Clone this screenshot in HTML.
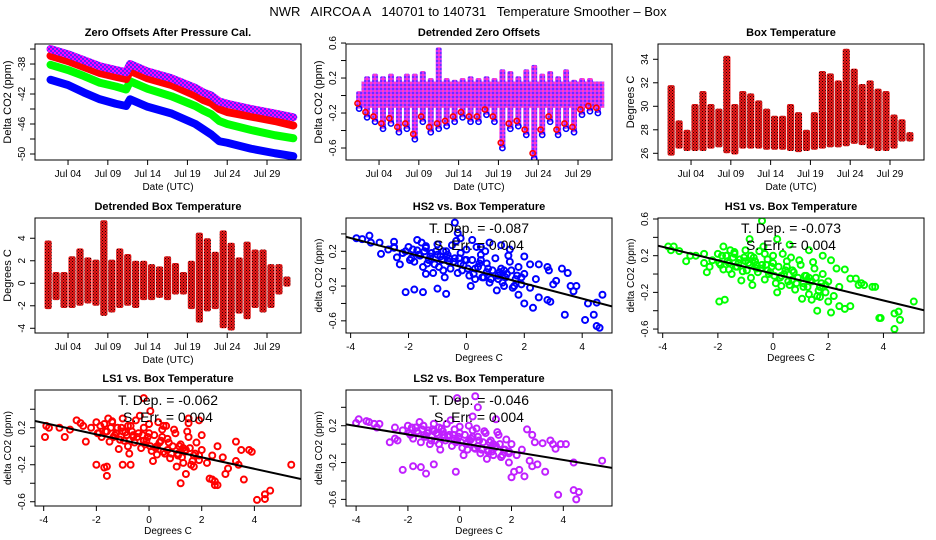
<!DOCTYPE html>
<html><head><meta charset="utf-8"><style>
html,body{margin:0;padding:0;background:#fff;}
svg{display:block;font-family:"Liberation Sans",sans-serif;}
</style></head><body>
<svg id="chart" width="936" height="540" viewBox="0 0 936 540" xmlns="http://www.w3.org/2000/svg">
<defs>
<pattern id="pPurple" width="4" height="4" patternUnits="userSpaceOnUse"><rect width="4" height="4" fill="#ff00ff"/><rect x="0" y="0" width="2" height="2" fill="#5a20ff"/><rect x="2" y="2" width="2" height="2" fill="#5a20ff"/></pattern>
<pattern id="pMix" width="4" height="4" patternUnits="userSpaceOnUse"><rect width="4" height="4" fill="#d030ff"/><rect x="0" y="0" width="2" height="2" fill="#6a30ff"/><rect x="2" y="2" width="2" height="2" fill="#ff40c0"/></pattern>
<pattern id="pRed" width="3" height="3" patternUnits="userSpaceOnUse"><rect width="3" height="3" fill="#ee1a1a"/><rect x="0" y="0" width="1" height="1" fill="#200000"/><rect x="1.5" y="1.5" width="1" height="1" fill="#300000"/></pattern>
</defs>
<text x="468" y="16" text-anchor="middle" font-size="13" xml:space="preserve">NWR   AIRCOA A   140701 to 140731   Temperature Smoother – Box</text>
</svg>
<script>
const zoDays = [0.8,3,5,7,9,10.3,10.8,13,16,19,20,21,22,23,26,29,31.3];
const zoLS2 = [-36.0,-36.7,-37.5,-38.3,-38.8,-39.1,-38.0,-39.0,-39.9,-41.2,-41.8,-42.2,-43.0,-43.3,-44.0,-44.6,-45.1];
const zoLS1 = [-36.9,-37.6,-38.4,-39.2,-39.7,-40.0,-38.9,-39.9,-40.8,-42.2,-42.8,-43.2,-44.0,-44.4,-45.0,-45.6,-46.2];
const zoHS1 = [-38.1,-38.8,-39.6,-40.5,-41.0,-41.4,-40.3,-41.3,-42.3,-43.6,-44.2,-44.7,-45.6,-46.0,-46.8,-47.5,-47.9];
const zoHS2 = [-40.1,-40.8,-41.8,-42.7,-43.3,-43.6,-42.7,-43.7,-44.6,-46.0,-46.7,-47.4,-48.3,-48.5,-49.3,-49.9,-50.3];
const detHi = [0.05,0.22,0.25,0.22,0.25,0.22,0.25,0.25,0.28,0.2,0.55,0.2,0.18,0.2,0.22,0.2,0.22,0.2,0.3,0.28,0.22,0.3,0.35,0.25,0.28,0.22,0.3,0.18,0.2,0.2,0.12];
const detLo = [-0.15,-0.25,-0.3,-0.38,-0.32,-0.42,-0.38,-0.5,-0.3,-0.42,-0.38,-0.35,-0.3,-0.25,-0.3,-0.3,-0.22,-0.3,-0.6,-0.38,-0.35,-0.45,-0.72,-0.45,-0.3,-0.45,-0.38,-0.42,-0.22,-0.18,-0.2];
const detCore = [-0.14,0.16];
const btHi = [31.8,28.8,28.0,30.2,31.3,30.2,29.8,34.3,30.2,31.3,31.1,30.5,29.8,29.2,29.2,30.2,29.5,28.0,29.5,33.0,32.8,32.2,34.9,33.2,31.9,32.2,31.5,31.3,29.3,28.9,27.8];
const btLo = [25.8,26.4,26.2,26.2,26.2,26.4,26.5,26.0,25.9,26.4,26.4,26.4,26.3,26.3,26.3,26.2,26.1,26.2,26.3,26.4,26.5,26.5,26.6,26.8,26.7,26.4,26.2,26.2,26.4,27.0,27.0];
const dbHi = [3.8,1.0,1.0,2.4,3.1,2.3,2.1,5.6,2.1,3.1,2.6,2.0,2.0,1.7,1.5,2.4,1.8,1.0,2.0,4.5,4.0,2.8,4.7,3.6,2.3,3.7,3.0,3.0,1.7,1.7,0.6];
const dbLo = [-2.3,-1.5,-2.2,-2.2,-2.0,-1.8,-2.0,-2.9,-2.6,-2.2,-2.0,-2.2,-1.5,-1.5,-1.3,-1.5,-1.0,-1.0,-2.3,-3.5,-2.5,-2.3,-4.0,-4.2,-2.7,-3.2,-2.2,-2.6,-2.2,-1.0,-0.3];
const hs2X = [-3.8,-3.6,-3.35,-3.3,-3.0,-2.95,-2.7,-2.5,-2.5,-2.4,-2.1,-2.1,-1.8,-1.7,-1.5,-1.4,-1.0,-0.7,-0.4,-0.3,-0.2,0.2,0.5,0.8,1.2,1.5,2.0,2.2,2.5,2.8,2.85,3.1,3.0,3.3,3.5,3.6,3.7,3.8,3.4,4.1,4.2,4.4,4.5,4.5,4.6,4.7,2.0,2.3,2.5,1.8,2.8,2.9,
 -2.2,-2.0,-1.9,-1.8,-1.7,-1.6,-1.5,-1.4,-1.3,-1.2,-1.1,-1.0,-0.9,-0.8,-0.7,-0.6,-0.5,-0.4,-0.3,-0.2,-0.1,0.0,0.1,0.2,0.3,0.4,0.5,0.6,0.7,0.8,0.9,1.0,1.1,1.2,1.3,1.4,1.5,1.6,1.7,1.8,1.9,2.0,2.2,2.4,-1.55,-0.75,0.35,1.05,-2.3,0.65,-0.35,1.45,-1.15,0.15];
const hs2Y = [0.35,0.34,0.38,0.3,0.3,0.17,0.22,0.31,0.25,0.13,-0.27,0.2,-0.24,0.33,-0.27,-0.06,-0.23,-0.29,0.53,0.41,0.35,0.33,0.25,0.3,0.27,0.22,0.14,0.05,0.05,0.02,-0.02,-0.14,-0.18,0.0,-0.05,-0.2,-0.26,-0.2,-0.53,-0.59,-0.4,-0.53,-0.39,-0.66,-0.68,-0.3,-0.4,-0.45,-0.33,-0.3,-0.36,-0.38,
 0.18,0.25,0.12,0.08,0.21,0.15,0.02,0.24,0.10,0.18,0.05,0.28,0.14,-0.02,0.20,0.08,0.27,0.12,-0.05,0.18,0.04,0.22,-0.08,0.10,-0.12,0.02,0.16,-0.10,0.06,-0.16,-0.02,0.12,-0.12,0.0,-0.20,-0.06,0.08,-0.22,-0.12,0.02,-0.18,-0.06,-0.22,-0.12,0.3,-0.1,0.25,-0.25,0.05,0.2,0.32,0.15,-0.05,-0.2];
const hs1X = [-3.8,-3.7,-3.6,-3.4,-3.15,-3.0,-2.8,-2.5,-2.3,-1.95,-1.75,-1.6,-1.8,-0.85,-0.4,-0.3,0.15,0.6,1.3,1.8,2.1,2.3,2.6,2.8,3.0,3.1,3.2,3.3,3.6,3.7,3.85,3.9,4.4,4.4,4.55,4.6,5.1,2.1,2.4,2.0,1.7,1.6,1.4,2.8,2.6,
 -2.2,-2.0,-1.9,-1.8,-1.7,-1.6,-1.5,-1.4,-1.3,-1.2,-1.1,-1.0,-0.9,-0.8,-0.7,-0.6,-0.5,-0.4,-0.3,-0.2,-0.1,0.0,0.1,0.2,0.3,0.4,0.5,0.6,0.7,0.8,0.9,1.0,1.1,1.2,1.3,1.4,1.5,1.6,1.7,1.8,1.9,2.0,2.2,2.4,-1.55,-0.75,0.35,1.05,-2.4,0.65,-0.35,1.45,-1.15,0.15,0.95];
const hs1Y = [0.3,0.26,0.3,0.25,0.14,0.2,0.2,0.12,0.08,-0.3,-0.28,0.05,0.3,0.38,0.58,0.22,0.38,0.32,0.26,0.2,0.15,0.06,0.05,-0.05,-0.05,-0.12,-0.1,-0.12,-0.14,-0.14,-0.48,-0.48,-0.43,-0.6,-0.41,-0.5,-0.3,-0.42,-0.35,-0.3,-0.25,-0.4,-0.28,-0.35,-0.38,
 0.15,0.22,0.1,0.05,0.2,0.12,0.0,0.22,0.08,0.16,0.03,0.26,0.12,-0.04,0.18,0.06,0.25,0.1,-0.06,0.16,0.02,0.2,-0.1,0.08,-0.13,0.0,0.14,-0.12,0.04,-0.17,-0.04,0.1,-0.14,-0.02,-0.22,-0.08,0.06,-0.24,-0.14,0.0,-0.2,-0.08,-0.24,-0.14,0.26,-0.12,0.22,-0.27,0.02,0.18,0.3,0.13,-0.07,-0.2,0.15];
const ls1X = [-3.9,-3.8,-3.95,-3.4,-3.2,-3.0,-2.75,-2.6,-2.0,-1.7,-1.6,-1.6,-1.0,-0.7,-0.2,0.05,0.55,1.2,1.5,1.5,1.9,2.0,2.5,2.6,2.6,2.8,2.9,3.3,3.4,3.5,3.6,3.8,3.9,3.3,3.0,2.3,2.4,2.5,4.1,4.4,4.4,4.6,5.4,1.7,1.4,
 -2.2,-2.0,-1.9,-1.8,-1.7,-1.6,-1.5,-1.4,-1.3,-1.2,-1.1,-1.0,-0.9,-0.8,-0.7,-0.6,-0.5,-0.4,-0.3,-0.2,-0.1,0.0,0.1,0.2,0.3,0.4,0.5,0.6,0.7,0.8,0.9,1.0,1.1,1.2,1.3,1.4,1.5,1.6,1.7,1.8,1.9,2.0,2.2,2.4,-1.55,-0.75,0.35,1.05,-2.4,0.65,-0.35,1.45,-1.15,0.15,0.95];
const ls1Y = [0.22,0.2,0.1,0.2,0.1,0.18,0.28,0.25,-0.2,-0.23,-0.22,-0.32,-0.2,-0.2,0.52,0.38,0.22,-0.4,0.3,0.25,0.28,0.12,-0.38,-0.42,0.0,-0.12,-0.3,-0.16,-0.2,-0.04,-0.36,-0.04,-0.06,0.05,-0.24,-0.35,-0.36,-0.42,-0.58,-0.57,-0.52,-0.48,-0.2,-0.22,-0.3,
 0.2,0.26,0.14,0.1,0.24,0.16,0.05,0.27,0.12,0.2,0.07,0.3,0.15,0.0,0.22,0.1,0.28,0.14,-0.02,0.2,0.06,0.24,-0.05,0.12,-0.09,0.04,0.18,-0.08,0.08,-0.13,0.0,0.14,-0.1,0.02,-0.18,-0.04,0.1,-0.2,-0.1,0.04,-0.15,-0.04,-0.18,-0.1,0.3,-0.08,0.26,-0.22,0.05,0.22,0.33,0.16,-0.03,-0.16,0.18];
const ls2X = [-4.0,-3.9,-3.6,-3.5,-3.3,-3.1,-3.2,-2.7,-2.5,-2.2,-1.8,-1.5,-1.3,-1.0,-0.15,-0.1,0.6,0.7,0.5,1.4,2.6,2.8,2.9,3.2,3.5,3.6,3.7,3.9,4.1,4.4,4.4,4.6,5.5,2.8,3.3,2.1,2.5,3.8,4.5,1.9,2.3,1.6,2.7,3.0,2.0,
 -2.2,-2.0,-1.9,-1.8,-1.7,-1.6,-1.5,-1.4,-1.3,-1.2,-1.1,-1.0,-0.9,-0.8,-0.7,-0.6,-0.5,-0.4,-0.3,-0.2,-0.1,0.0,0.1,0.2,0.3,0.4,0.5,0.6,0.7,0.8,0.9,1.0,1.1,1.2,1.3,1.4,1.5,1.6,1.7,1.8,1.9,2.0,2.2,2.4,-1.55,-0.75,0.35,1.05,-2.4,0.65,-0.35,1.45,-1.15,0.15,0.95];
const ls2Y = [0.23,0.27,0.25,0.24,0.22,0.22,0.18,0.02,0.06,-0.28,-0.24,-0.25,-0.32,-0.22,-0.3,0.5,0.52,0.4,0.3,0.27,0.16,0.1,0.02,0.01,0.04,0.0,-0.05,0.0,0.0,-0.5,-0.2,-0.52,-0.18,-0.24,-0.3,-0.3,-0.35,-0.55,-0.6,-0.2,-0.28,-0.14,-0.18,-0.22,-0.36,
 0.15,0.2,0.1,0.06,0.18,0.12,0.02,0.2,0.08,0.15,0.04,0.22,0.12,0.0,0.17,0.07,0.22,0.1,-0.02,0.16,0.04,0.19,-0.04,0.1,-0.06,0.04,0.15,-0.05,0.08,-0.1,0.02,0.12,-0.08,0.04,-0.12,-0.02,0.1,-0.14,-0.06,0.05,-0.1,0.0,-0.12,-0.06,0.24,-0.06,0.2,-0.16,0.04,0.17,0.26,0.13,0.0,-0.12,0.14];
// extra dense-cloud points (x shared, y per instrument)
const cloudX = [-1.95,-1.85,-1.65,-1.45,-1.35,-1.25,-1.05,-0.95,-0.85,-0.65,-0.55,-0.45,-0.25,-0.15,-0.05,0.05,0.25,0.45,0.55,0.75,0.85,1.15,1.25,1.35,1.55,1.65,1.75,-1.0,-0.6,-0.2,0.3,0.7,1.1,-1.4,-0.8,0.0,0.5,1.3,1.9,-2.5];
const hs2CloudY = [0.1,0.22,0.16,0.2,0.06,0.14,0.2,0.02,0.1,0.16,0.0,0.08,0.12,-0.02,0.1,0.0,-0.06,0.06,-0.1,0.0,-0.12,-0.04,-0.16,-0.1,-0.02,-0.2,-0.08,0.16,0.12,0.06,0.0,-0.04,-0.08,0.26,0.2,0.1,0.1,-0.02,-0.1,0.24];
const hs1CloudY = [0.12,0.2,0.14,0.18,0.08,0.12,0.18,0.04,0.1,0.14,0.02,0.06,0.1,0.0,0.08,-0.02,-0.04,0.04,-0.08,0.02,-0.1,-0.02,-0.14,-0.08,-0.04,-0.18,-0.1,0.14,0.1,0.04,-0.02,-0.06,-0.1,0.24,0.2,0.12,0.08,-0.04,-0.12,0.22];
const ls1CloudY = [0.14,0.22,0.16,0.2,0.1,0.14,0.2,0.06,0.12,0.16,0.04,0.1,0.12,0.02,0.1,0.0,-0.02,0.06,-0.06,0.04,-0.08,0.0,-0.12,-0.06,-0.02,-0.16,-0.08,0.16,0.12,0.06,0.0,-0.04,-0.08,0.26,0.22,0.14,0.1,-0.02,-0.1,0.22];
const ls2CloudY = [0.12,0.18,0.14,0.16,0.08,0.12,0.16,0.04,0.1,0.14,0.04,0.08,0.1,0.02,0.08,0.02,0.0,0.06,-0.04,0.04,-0.06,0.02,-0.08,-0.04,0.0,-0.12,-0.06,0.14,0.1,0.06,0.02,-0.02,-0.06,0.2,0.18,0.12,0.08,0.0,-0.08,0.18];
const fits = {hs2:[0.004,-0.087], hs1:[0.004,-0.073], ls1:[0.004,-0.062], ls2:[0.013,-0.046]};
const dateTickDays = [3,8,13,18,23,28];
const dateTickLabels = ["Jul 04","Jul 09","Jul 14","Jul 19","Jul 24","Jul 29"];

const NS = "http://www.w3.org/2000/svg";
const svg = document.getElementById('chart');
function mk(tag, attrs, parent){
  const e = document.createElementNS(NS, tag);
  for (const k in attrs) e.setAttribute(k, attrs[k]);
  (parent||svg).appendChild(e);
  return e;
}
function panel(name, box, xd, yd){
  const g = mk('g', {});
  
  
  const sx = v => box[0] + (v - xd[0]) / (xd[1] - xd[0]) * (box[2] - box[0]);
  const sy = v => box[3] - (v - yd[0]) / (yd[1] - yd[0]) * (box[3] - box[1]);
  const clip = mk('clipPath', {id: 'c-' + name}, g);
  mk('rect', {x: box[0], y: box[1], width: box[2]-box[0], height: box[3]-box[1]}, clip);
  const plot = mk('g', {'clip-path': 'url(#c-' + name + ')'}, g);
  
  
  return {g, plot, sx, sy, box};
}
function frame(P, title, ytitle, yTicks, yLabels, xlab, scatter){
  const b = P.box, g = P.g;
  const fr = mk('rect', {x: b[0], y: b[1], width: b[2]-b[0], height: b[3]-b[1], fill: 'none', stroke: '#000', 'stroke-width': 1}, g);
  
  
  const t = mk('text', {x: (b[0]+b[2])/2, y: b[1]-8, 'text-anchor': 'middle', 'font-size': 11, 'font-weight': 'bold'}, g);
  t.textContent = title;
  
  
  yTicks.forEach((v, i) => {
    const y = P.sy(v);
    const tk = mk('line', {x1: b[0]-5, x2: b[0], y1: y, y2: y, stroke: '#000'}, g);
    
    
    if (yLabels[i] !== '') {
      const lb = mk('text', {x: b[0]-10, y: y, 'text-anchor': 'middle', 'font-size': 10, transform: 'rotate(-90 ' + (b[0]-10) + ' ' + y + ')'}, g);
      lb.textContent = yLabels[i];
      
      
    }
  });
  const yt = mk('text', {x: b[0]-24, y: (b[1]+b[3])/2, 'text-anchor': 'middle', 'font-size': scatter ? 10 : 11, transform: 'rotate(-90 ' + (b[0]-24) + ' ' + ((b[1]+b[3])/2) + ')'}, g);
  yt.textContent = ytitle;
  
  
  const xt = mk('text', {x: (b[0]+b[2])/2, y: b[3]+ (scatter ? 28 : 30), 'text-anchor': 'middle', 'font-size': 10}, g);
  xt.textContent = xlab;
  
  
}
function xTicks(P, vals, labels){
  const b = P.box;
  vals.forEach((v, i) => {
    const x = P.sx(v);
    const tk = mk('line', {x1: x, x2: x, y1: b[3], y2: b[3]+5, stroke: '#000'}, P.g);
    
    
    const lb = mk('text', {x: x, y: b[3]+17, 'text-anchor': 'middle', 'font-size': 10}, P.g);
    lb.textContent = labels[i];
    
    
  });
}
const COLS = [[35,301],[346,612],[658,924]];
const ROWS = [[44,160],[218,333],[390,506]];
const DX = [-1.15, 32.27];

{
  const P = panel('zero-offsets-panel', [COLS[0][0], ROWS[0][0], COLS[0][1], ROWS[0][1]], DX, [-50.8, -35.33]);
  [[zoHS2,'#0000ff','series-hs2'],[zoHS1,'#00ff00','series-hs1'],[zoLS1,'#ff0000','series-ls1'],[zoLS2,'url(#pPurple)','series-ls2']].forEach(s => {
    const pts = zoDays.map((d, i) => P.sx(d) + ',' + P.sy(s[0][i])).join(' ');
    const pl = mk('polyline', {points: pts, fill: 'none', stroke: s[1], 'stroke-width': 8, 'stroke-linejoin': 'round', 'stroke-linecap': 'round'}, P.plot);
    
    
  });
  frame(P, 'Zero Offsets After Pressure Cal.', 'Delta CO2 (ppm)', [-36,-38,-40,-42,-44,-46,-48,-50], ['','-38','','-42','','-46','','-50'], 'Date (UTC)', false);
  xTicks(P, dateTickDays, dateTickLabels);
}
{
  const P = panel('detrended-zero-offsets-panel', [COLS[1][0], ROWS[0][0], COLS[1][1], ROWS[0][1]], DX, [-0.737, 0.589]);
  const core = mk('rect', {x: P.sx(0.8), width: P.sx(31.3)-P.sx(0.8), y: P.sy(detCore[1]), height: P.sy(detCore[0])-P.sy(detCore[1]), fill: 'url(#pMix)'}, P.plot);
  
  
  detHi.forEach((h, i) => {
    const lo = detLo[i], x = P.sx(i + 0.5);
    const r = mk('rect', {x: x-3, width: 6, y: P.sy(h), height: P.sy(lo)-P.sy(h), fill: 'url(#pMix)', rx: 2}, P.plot);
    
    
    [['#0000ff', 0.5, lo], ['#ff0000', 0.3, lo + 0.06]].forEach(c => {
      const m = mk('circle', {cx: P.sx(i + c[1]), cy: P.sy(c[2]), r: 2.6, fill: 'none', stroke: c[0], 'stroke-width': 1.6}, P.plot);
      
      
    });
  });
  frame(P, 'Detrended Zero Offsets', 'Delta CO2 (ppm)', [0.6,0.4,0.2,0,-0.2,-0.4,-0.6], ['0.6','','0.2','','-0.2','','-0.6'], 'Date (UTC)', false);
  xTicks(P, dateTickDays, dateTickLabels);
}
function rangePanel(name, col, row, yd, hi, lo, title, yt, ticks, labels){
  const P = panel(name, [COLS[col][0], ROWS[row][0], COLS[col][1], ROWS[row][1]], DX, yd);
  hi.forEach((h, i) => {
    const x0 = P.sx(i + 0.05), x1 = P.sx(i + 0.95);
    const r = mk('rect', {x: x0, width: x1 - x0, y: P.sy(h), height: P.sy(lo[i])-P.sy(h), fill: 'url(#pRed)', rx: 2}, P.plot);
    
    
  });
  frame(P, title, yt, ticks, labels, 'Date (UTC)', false);
  xTicks(P, dateTickDays, dateTickLabels);
}
rangePanel('box-temperature-panel', 2, 0, [25.43, 35.3], btHi, btLo, 'Box Temperature', 'Degrees C', [26,28,30,32,34], ['26','28','30','32','34']);
rangePanel('detrended-box-temperature-panel', 0, 1, [-4.42, 5.8], dbHi, dbLo, 'Detrended Box Temperature', 'Degrees C', [-4,-2,0,2,4], ['-4','-2','0','2','4']);

function scatterPanel(name, col, row, xd, yd, xs, ys, cy2, color, fit, title, dep, yticks, ylabels){
  const P = panel(name, [COLS[col][0], ROWS[row][0], COLS[col][1], ROWS[row][1]], xd, yd);
  const allX = xs.concat(cloudX), allY = ys.concat(cy2);
  allX.forEach((x, i) => {
    const c = mk('circle', {cx: P.sx(x), cy: P.sy(allY[i]), r: 3, fill: 'none', stroke: color, 'stroke-width': 2}, P.plot);
    
    
  });
  const ln = mk('line', {x1: P.sx(xd[0]), y1: P.sy(fit[0] + fit[1]*xd[0]), x2: P.sx(xd[1]), y2: P.sy(fit[0] + fit[1]*xd[1]), stroke: '#000', 'stroke-width': 2}, P.plot);
  
  
  const b = P.box, cx = (b[0]+b[2])/2;
  const t1 = mk('text', {x: cx, y: b[1]+15, 'text-anchor': 'middle', 'font-size': 14}, P.g);
  t1.textContent = 'T. Dep. =  ' + dep;
  
  
  const t2 = mk('text', {x: cx, y: b[1]+32, 'text-anchor': 'middle', 'font-size': 14}, P.g);
  t2.textContent = 'S. Err. =  0.004';
  
  
  frame(P, title, 'delta CO2 (ppm)', yticks, ylabels, 'Degrees C', true);
  xTicks(P, [-4,-2,0,2,4], ['-4','-2','0','2','4']);
}
scatterPanel('hs2-scatter-panel', 1, 1, [-4.16, 5.03], [-0.74, 0.583], hs2X, hs2Y, hs2CloudY, '#0000ff', fits.hs2, 'HS2 vs. Box Temperature', '-0.087', [0.4,0.2,0,-0.2,-0.4,-0.6], ['','0.2','','-0.2','','-0.6']);
scatterPanel('hs1-scatter-panel', 2, 1, [-4.17, 5.47], [-0.643, 0.611], hs1X, hs1Y, hs1CloudY, '#00ff00', fits.hs1, 'HS1 vs. Box Temperature', '-0.073', [0.6,0.4,0.2,0,-0.2,-0.4,-0.6], ['0.6','','0.2','','-0.2','','-0.6']);
scatterPanel('ls1-scatter-panel', 0, 2, [-4.33, 5.77], [-0.646, 0.608], ls1X, ls1Y, ls1CloudY, '#ff0000', fits.ls1, 'LS1 vs. Box Temperature', '-0.062', [0.4,0.2,0,-0.2,-0.4,-0.6], ['','0.2','','-0.2','','-0.6']);
scatterPanel('ls2-scatter-panel', 1, 2, [-4.39, 5.88], [-0.672, 0.588], ls2X, ls2Y, ls2CloudY, '#c020ff', fits.ls2, 'LS2 vs. Box Temperature', '-0.046', [0.4,0.2,0,-0.2,-0.4,-0.6], ['','0.2','','-0.2','','-0.6']);
</script>
</body></html>
